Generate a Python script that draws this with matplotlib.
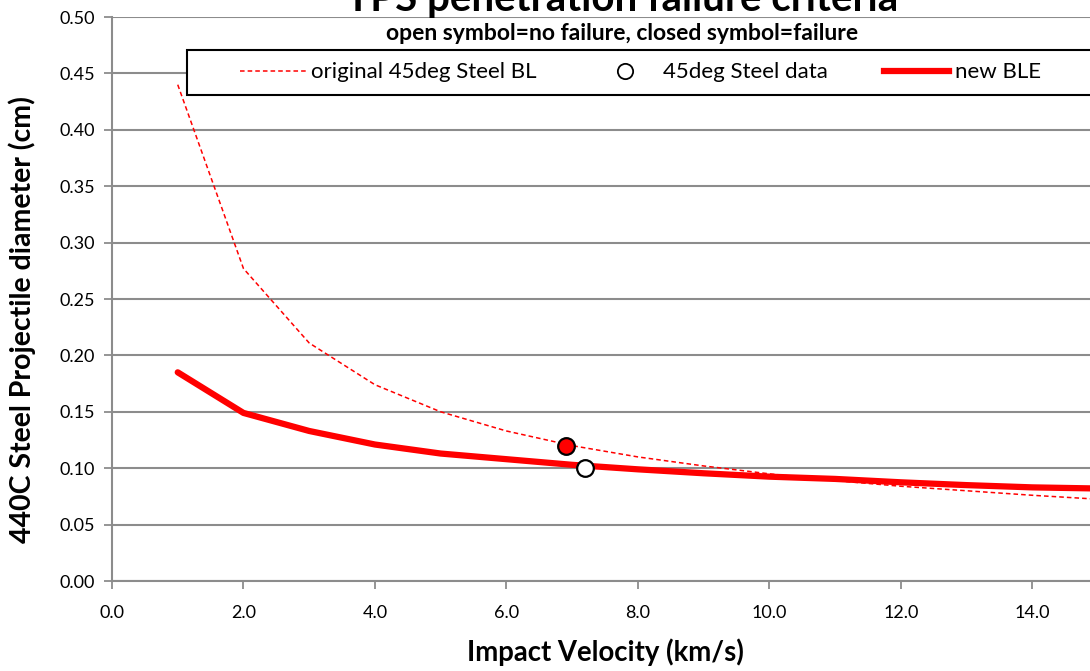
import matplotlib
matplotlib.use("Agg")
import matplotlib.pyplot as plt
from matplotlib.lines import Line2D
from matplotlib.patches import Rectangle

plt.rcParams['font.family'] = ['Lato', 'DejaVu Sans']

# Data
bl_velocity = [1, 2, 3, 4, 5, 6, 7, 8, 9, 10, 11, 12, 13, 14, 15]
bl_diameter = [0.440, 0.277, 0.211, 0.174, 0.150, 0.133, 0.120, 0.110,
               0.102, 0.095, 0.089, 0.084, 0.080, 0.076, 0.0725]
ble_velocity = [1, 2, 3, 4, 5, 6, 7, 8, 9, 10, 11, 12, 13, 14, 15]
ble_diameter = [0.185, 0.149, 0.133, 0.121, 0.113, 0.108, 0.103, 0.099,
                0.0955, 0.0925, 0.0905, 0.0875, 0.085, 0.083, 0.082]
fail_v = [6.9]
fail_d = [0.12]
nofail_v = [7.2]
nofail_d = [0.10]

xticks = [0, 2, 4, 6, 8, 10, 12, 14]
yticks = [0.0, 0.05, 0.10, 0.15, 0.20, 0.25, 0.30, 0.35, 0.40, 0.45, 0.50]

W, H = 1090, 671
fig = plt.figure(figsize=(W / 100, H / 100), dpi=100)
left, right, top, bottom = 112, 1098, 17, 581
ax = fig.add_axes([left / W, 1 - bottom / H, (right - left) / W, (bottom - top) / H])

grey = '#8c8c8c'
ax.plot(bl_velocity, bl_diameter, color='red', lw=1.1, ls=(0, (3, 2)), zorder=3)
ax.plot(ble_velocity, ble_diameter, color='red', lw=4.5, solid_capstyle='round', zorder=3)
ax.plot(fail_v, fail_d, 'o', ms=12, mfc='red', mec='black', mew=1.6, zorder=4)
ax.plot(nofail_v, nofail_d, 'o', ms=12, mfc='white', mec='black', mew=1.6, zorder=4)

ax.set_xlim(0, 15)
ax.set_ylim(0, 0.5)
ax.set_xticks(xticks)
ax.set_xticklabels([f"{v:.1f}" for v in xticks])
ax.set_yticks(yticks)
ax.set_yticklabels([f"{v:.2f}" for v in yticks])
ax.tick_params(axis='both', direction='out', length=6, width=1.3, color=grey,
               labelsize=13, colors='black')
ax.tick_params(axis='x', pad=11)
ax.tick_params(axis='y', pad=6)
for s in ['top', 'right']:
    ax.spines[s].set_visible(False)
for s in ['left', 'bottom']:
    ax.spines[s].set_color(grey)
    ax.spines[s].set_linewidth(1.5)
ax.yaxis.grid(True, color=grey, lw=1.5)
ax.set_axisbelow(True)

ax.set_xlabel('Impact Velocity (km/s)', fontsize=19.8, fontweight='bold', labelpad=13)
ax.set_ylabel('440C Steel Projectile diameter (cm)', fontsize=20.5, fontweight='bold')
ax.yaxis.set_label_coords((22 - left) / (right - left), (bottom - 320) / (bottom - top))
ax.yaxis.label.set_va('center')

fig.text(622 / W, 1 - 11 / H, 'TPS penetration failure criteria', ha='center', va='baseline',
         fontsize=29, fontweight='bold')
fig.text(622 / W, 1 - 33 / H, 'open symbol=no failure, closed symbol=failure', ha='center',
         va='center', fontsize=16.5, fontweight='bold')

# legend frame
fig.patches.append(Rectangle((187 / W, 1 - 95 / H), (1110 - 187) / W, 45 / H,
                             transform=fig.transFigure, fill=True, facecolor='white',
                             edgecolor='black', lw=1.5, zorder=5))

handles = [
    Line2D([], [], color='red', lw=1.1, ls=(0, (3, 2))),
    Line2D([], [], ls='none', marker='o', ms=11, mfc='white', mec='black', mew=1.3),
    Line2D([], [], color='red', lw=4.5),
]
labels = ['original 45deg Steel BL', '45deg Steel data', 'new BLE']
leg = fig.legend(handles, labels, loc='center left', ncol=3,
                 bbox_to_anchor=(240 / W, 1 - 72.5 / H), frameon=False, fontsize=16,
                 handlelength=2.95, handletextpad=0.25, columnspacing=2.5,
                 borderpad=0, borderaxespad=0)
leg.set_zorder(6)

fig.savefig('out.png', dpi=100)
